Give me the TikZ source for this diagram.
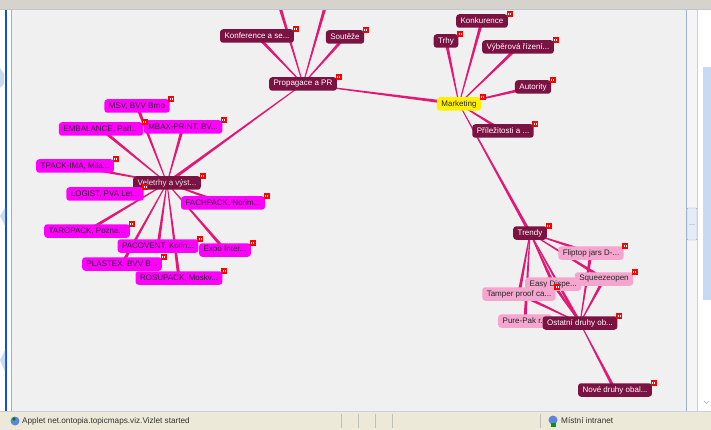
\documentclass[tikz,border=0pt]{standalone}
\usepackage{fontspec}
\setmainfont{Liberation Sans}
\usetikzlibrary{calc}

\definecolor{linkpink}{RGB}{226,24,116}
\definecolor{topicdark}{RGB}{122,18,66}
\definecolor{fairpink}{RGB}{255,0,255}
\definecolor{trendpink}{RGB}{244,166,207}
\definecolor{hubyellow}{RGB}{255,240,0}
\definecolor{canvasgray}{RGB}{240,240,240}
\definecolor{barbeige}{RGB}{236,233,216}
\definecolor{topgray}{RGB}{214,211,204}
\definecolor{winblue}{RGB}{20,80,210}
\definecolor{paleblue}{RGB}{200,218,242}
\definecolor{lineblue}{RGB}{160,176,200}

\pgfdeclarelayer{backdrop}
\pgfdeclarelayer{links}
\pgfsetlayers{backdrop,links,main}

% tapered association line: thin at #1, thick at #2
\newcommand{\assoc}[2]{\fill[linkpink] ($(#1)!0.45pt!90:(#2)$) -- ($(#1)!0.45pt!-90:(#2)$) -- ($(#2)!1.6pt!90:(#1)$) -- ($(#2)!1.6pt!-90:(#1)$) -- cycle;}

\begin{document}
\begin{tikzpicture}[x=1pt,y=-1pt]
	\tikzstyle{topic} = [rectangle, rounded corners=3pt, minimum height=13.5pt, 
	inner xsep=4.5pt, inner ysep=1pt, text=white, fill=topicdark, 
	font=\fontsize{8}{9}\selectfont]
	\tikzstyle{fair} = [topic, fill=fairpink, text=black!85]
	\tikzstyle{trend} = [topic, fill=trendpink, text=black!85]
	\tikzstyle{hub} = [topic, fill=hubyellow, text=black!85]
	\tikzstyle{status} = [font=\fontsize{8.2}{9}\selectfont, text=black!80, inner sep=0pt]
	\useasboundingbox (0,0) rectangle (711,430);
	\begin{pgfonlayer}{backdrop}
	\fill[white] (0,0) rectangle (711,430);
	\fill[canvasgray] (11,10) rectangle (686,411);
	\end{pgfonlayer}
	% topics
	\coordinate (offLeft) at (279,4);
	\coordinate (offRight) at (326,4);
	\node (konference) [topic] at (257,36) {Konference a se...};
	\node (soutez) [topic] at (345,37) {Soutěže};
	\node (propagace) [topic] at (303,84) {Propagace a PR};
	\node (konkurence) [topic] at (482,21) {Konkurence};
	\node (trhy) [topic] at (446,41) {Trhy};
	\node (vyberova) [topic] at (518,47) {Výběrová řízení...};
	\node (autority) [topic] at (533,87) {Autority};
	\node (marketing) [hub] at (459,104) {Marketing};
	\node (prilezitosti) [topic] at (503,131) {Příležitosti a ...};
	\node (veletrhy) [topic, text=black!10] at (167,183) {Veletrhy a výst...};
	\node (msv) [fair] at (137,106) {MSV, BVV Brno};
	\node (embalance) [fair] at (101,129) {EMBALANCE, Paří...};
	\node (mbax) [fair] at (183,127) {MBAX-PRINT, BV...};
	\node (tpack) [fair] at (75,166) {TPACK-IMA, Mila...};
	\node (logist) [fair] at (105,194) {LOGIST, PVA Let...};
	\node (fachpack) [fair] at (223,203) {FACHPACK, Norim...};
	\node (taropack) [fair] at (87,231) {TAROPACK, Pozna...};
	\node (pacovent) [fair] at (158,246) {PACOVENT, Kolín...};
	\node (expo) [fair] at (225,250) {Expo Inter...};
	\node (plastex) [fair] at (122,264) {PLASTEX, BVV B...};
	\node (rosupack) [fair] at (179,278) {ROSUPACK, Moskv...};
	\node (trendy) [topic] at (530,233) {Trendy};
	\node (fliptop) [trend] at (591,253) {Fliptop jars D-...};
	\node (easy) [trend, anchor=west] at (525,284) {Easy Dispe...};
	\node (squeeze) [trend] at (604,279) {Squeezeopen};
	\node (tamper) [trend] at (519,294) {Tamper proof ca...};
	\node (purepak) [trend, anchor=west] at (498,321) {Pure-Pak r...};
	\node (ostatni) [topic] at (580,323) {Ostatní druhy ob...};
	\node (nove) [topic] at (615,390) {Nové druhy obal...};
	% associations
	\begin{pgfonlayer}{links}
	\assoc{propagace}{offLeft}
	\assoc{propagace}{offRight}
	\assoc{propagace}{konference}
	\assoc{propagace}{soutez}
	\assoc{propagace}{marketing}
	\assoc{propagace}{veletrhy}
	\assoc{marketing}{konkurence}
	\assoc{marketing}{trhy}
	\assoc{marketing}{vyberova}
	\assoc{marketing}{autority}
	\assoc{marketing}{prilezitosti}
	\assoc{marketing}{trendy}
	\assoc{veletrhy}{msv}
	\assoc{veletrhy}{embalance}
	\assoc{veletrhy}{mbax}
	\assoc{veletrhy}{tpack}
	\assoc{veletrhy}{logist}
	\assoc{veletrhy}{fachpack}
	\assoc{veletrhy}{taropack}
	\assoc{veletrhy}{pacovent}
	\assoc{veletrhy}{expo}
	\assoc{veletrhy}{plastex}
	\assoc{veletrhy}{rosupack}
	\assoc{trendy}{fliptop}
	\assoc{trendy}{squeeze}
	\assoc{trendy}{easy}
	\assoc{trendy}{tamper}
	\assoc{trendy}{purepak}
	\assoc{trendy}{ostatni}
	\assoc{ostatni}{fliptop}
	\assoc{ostatni}{squeeze}
	\assoc{ostatni}{easy}
	\assoc{ostatni}{tamper}
	\assoc{ostatni}{purepak}
	\assoc{ostatni}{nove}
	\end{pgfonlayer}
	% occurrence markers
	\foreach \t in {konference,soutez,propagace,konkurence,trhy,vyberova,autority,
		marketing,prilezitosti,veletrhy,msv,embalance,mbax,tpack,logist,fachpack,
		taropack,pacovent,expo,plastex,rosupack,trendy,fliptop,squeeze,tamper,ostatni,nove}{
		\fill[red] ($(\t.north east)+(-1.5,-3)$) rectangle +(6,6);
		\fill[white] ($(\t.north east)+(0,-1.5)$) rectangle +(0.8,2);
		\fill[white] ($(\t.north east)+(2,-1.5)$) rectangle +(0.8,2);
	}
	% window frame
	\fill[topgray] (0,0) rectangle (711,9);
	\draw[lineblue!70] (0,9.5) -- (711,9.5);
	\fill[white] (0,10) rectangle (10.5,411);
	\draw[winblue, line width=1.6pt] (6,10) -- (6,412);
	\draw[lineblue] (11,10) -- (11,411);
	\fill[paleblue] (0,68) -- (4,74) -- (4,84) -- (0,88) -- cycle;
	\fill[paleblue] (0,216) -- (5,208) -- (5,226) -- cycle;
	\fill[paleblue] (0,360) -- (5,350) -- (5,372) -- cycle;
	\draw[lineblue] (686,10) -- (686,411);
	\fill[white!96!black] (686.5,10) rectangle (696.5,411);
	\draw[lineblue, fill=paleblue!50, rounded corners=1pt] (687,208) rectangle (697,240);
	\draw[lineblue!60] (689,224) -- (695,224);
	\draw[lineblue!60] (697,10) -- (697,411);
	\fill[paleblue] (703,67) rectangle (711,300);
	\draw[lineblue] (704,401) -- (706.5,403.5) -- (709,401);
	% status bar
	\fill[barbeige] (0,411.5) rectangle (711,430);
	\draw[lineblue!60] (0,411.5) -- (711,411.5);
	\foreach \x in {341,358,375,392,540}{
		\draw[black!25] (\x,414) -- (\x,428);
	}
	\fill[winblue!70] (15,421) circle (4.5);
	\fill[green!50!black] (14,419) circle (1.8);
	\fill[winblue!70] (553,420) circle (4.5);
	\fill[green!60!black] (551,423) rectangle +(5,4);
	\node (applet) [status, anchor=west] at (22,421) {Applet net.ontopia.topicmaps.viz.Vizlet started};
	\node (zone) [status, anchor=west] at (561,421) {Místní intranet};
\end{tikzpicture}
\end{document}
